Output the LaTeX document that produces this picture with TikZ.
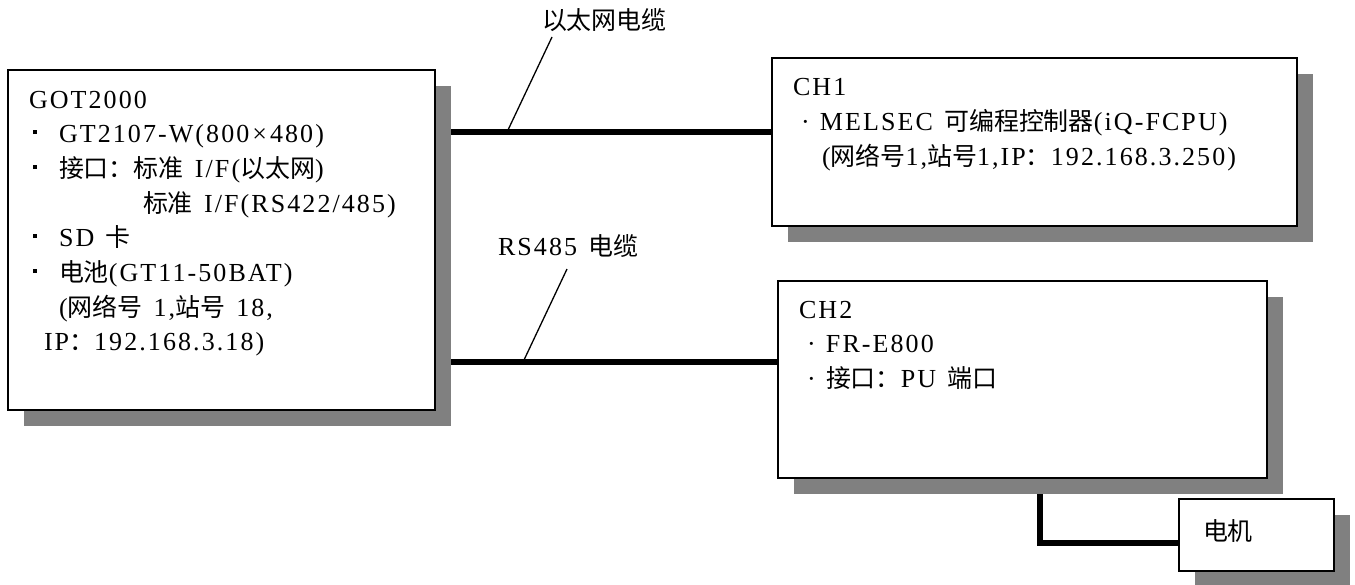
\documentclass[tikz,border=0pt]{standalone}
\usepackage{fontspec}
\setmainfont{Liberation Serif}[WordSpace=1.3, LetterSpace=8]
\newfontfamily\cjk{Noto Sans CJK SC}[Scale=0.96]
\newcommand\zh[1]{{\cjk #1}}
\newcommand\sqbul{\makebox[30pt][l]{\hspace{4pt}\rule[8pt]{4pt}{4pt}}}
\newcommand\dotbul{\makebox[22pt][l]{\hspace{3pt}·}}
\usetikzlibrary{shadows}
\pgfdeclarelayer{background}
\pgfsetlayers{background,main}
\definecolor{shadowgray}{RGB}{128,128,128}
\begin{document}
\begin{tikzpicture}[x=1pt,y=-1pt,
  box/.style={draw, line width=1.3pt, fill=white, rectangle, anchor=north west,
    outer sep=0pt, inner sep=0pt,
    drop shadow={shadow xshift=16pt, shadow yshift=-16pt, fill=shadowgray, opacity=1}},
  txt/.style={anchor=base west, inner sep=0pt, outer sep=0pt,
    font=\fontsize{26pt}{34.6pt}\selectfont},
  cable/.style={line width=6pt, line join=miter, line cap=butt},
  leader/.style={line width=1.3pt}]
\useasboundingbox (0,0) rectangle (1355,584);

% boxes
\node[box, minimum width=427pt, minimum height=340pt] (got) at (8,70) {};
\node[box, minimum width=525pt, minimum height=168pt] (ch1) at (772,58) {};
\node[box, minimum width=489pt, minimum height=197pt] (ch2) at (778,281) {};
\node[box, minimum width=155pt, minimum height=72pt] (motor) at (1179,499) {};

% GOT text
\node[txt] (g1) at (29,108) {GOT2000};
\node[txt] (g2) at (29,142) {\sqbul GT2107-W(800\kern3pt×\kern3pt480)};
\node[txt] (g3) at (29,177) {\sqbul\zh{接口：标准} I/F(\zh{以太网})};
\node[txt] (g4) at (143,212) {\zh{标准} I/F(RS422/485)};
\node[txt] (g5) at (29,246) {\sqbul SD \zh{卡}};
\node[txt] (g6) at (29,281) {\sqbul\zh{电池}(GT11-50BAT)};
\node[txt] (g7) at (59,316) {(\zh{网络号} 1,\zh{站号} 18,};
\node[txt] (g8) at (44,350) {IP\zh{：}192.168.3.18)};

% CH1 text
\node[txt] (c1a) at (793,95) {CH1};
\node[txt] (c1b) at (798,130) {\dotbul MELSEC \zh{可编程控制器}(iQ-FCPU)};
\node[txt] (c1c) at (822,165) {(\zh{网络号}1,\zh{站号}1,IP\zh{：}192.168.3.250)};

% CH2 text
\node[txt] (c2a) at (799,318) {CH2};
\node[txt] (c2b) at (804,352) {\dotbul FR-E800};
\node[txt] (c2c) at (804,387) {\dotbul\zh{接口：}PU \zh{端口}};

% motor text
\node[txt] (mt) at (1203,540) {\zh{电机}};

% cable labels
\node[txt] (lab1) at (542,29) {\zh{以太网电缆}};
\node[txt] (lab2) at (498,255) {RS485 \zh{电缆}};

% coordinates
\coordinate (eth) at (0,132);
\coordinate (rs) at (0,362);
\coordinate (mc) at (1040,543);
\coordinate (e1) at (508,130);
\coordinate (e2) at (552,37);
\coordinate (r1) at (524,360);
\coordinate (r2) at (567,269);

% leaders
\draw[leader] (e1) -- (e2);
\draw[leader] (r1) -- (r2);

% cables
\begin{pgfonlayer}{background}
\draw[cable] (got.east |- eth) -- (ch1.west |- eth);
\draw[cable] (got.east |- rs) -- (ch2.west |- rs);
\draw[cable] (ch2.south -| mc) -- (mc) -- (motor.west |- mc);
\end{pgfonlayer}
\end{tikzpicture}
\end{document}
